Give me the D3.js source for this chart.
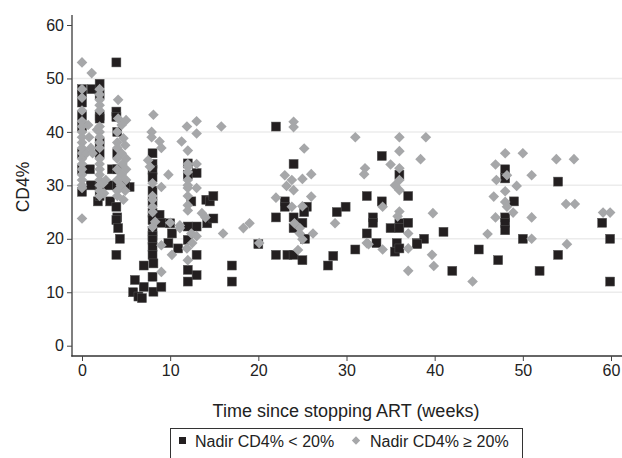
<!DOCTYPE html>
<html>
<head>
<meta charset="utf-8">
<script src="https://cdn.jsdelivr.net/npm/d3@7"></script>
<style>
  body { margin: 0; background: #fff; }
  text { font-family: "Liberation Sans", Arial, sans-serif; fill: #222; }
</style>
</head>
<body>
<svg id="chart" width="622" height="458"></svg>
<script>
// [week, CD4%] for patients with nadir CD4% < 20%
var nadirLow = [
  [0,48],[0,47],[0,45.5],[0,43],[0,41],[0,36],[0,33],[0,28.8],
  [1.1,48],[0.9,33],[1,30],
  [2,49],[2,47],[2,43],[2,42.5],[2,38],[2,36],[2,30],[1.8,27],[2,28],
  [3.2,27],[3.4,33],[3,30],
  [3.9,53],[3.9,43.8],[3.9,42.8],[4,40],[4,36],[4,33],[4,30],[3.9,26],[4,24],[3.9,23.5],[4.1,22],[4.3,20],[3.9,17],
  [5.4,29.7],[4.9,30],
  [6,12.3],[5.8,10],[6.4,9.2],[6.8,8.9],[7,11],[7,15],
  [8,36],[8,34],[8,32.9],[8,31.5],[8,29],[8,27],[8,24.8],[8,23.5],[8,21.5],[8,20.5],[8,19.8],[8,18.5],[8,17],[8.1,15.4],[8,12.9],[8.1,10.1],
  [8.8,24.5],[9,11],[9.8,19.2],[9,23],
  [10,22.9],[10.2,21],[10.9,18.2],
  [12,34.1],[12,32],[12,22.3],[12,19.8],[12,14.2],[12,12],[12.4,27],
  [13,32.3],[13,22.3],[13,17],[13,13.2],
  [14.1,27.3],[14.5,27],[14.9,28],[14.2,22.9],[14.9,23.8],
  [17,15],[17,12],
  [20,19],
  [22,41],[22,24],[22,17],
  [23,27],[23,26],[23.3,17],
  [24,34],[24,24],[24,22],[24,17],
  [25.5,26],[25.2,25],[25,23],[25.3,20],[25,16],
  [28.5,16.8],[27.9,15],[28.9,25],[29.9,26],
  [31,18],
  [32.3,28],[32.3,21],
  [33,24],[33,23],[33.4,19.2],
  [34,35.5],[34,27],
  [35,22],[35.7,19.2],[35.5,17.6],
  [36,32],[36,22.9],[36,22],[36,18.2],
  [37,28],[37,23],
  [38,19.2],[38.8,20],[38,19],
  [41,21.3],[42,14],[45,18],[47.2,16],
  [48,33],[48,31.3],[48,24],[48,23],[48,21.6],
  [49,27],[50,20],[51.9,14],
  [54,30.7],[54,17],
  [59,23],[59.9,20],[59.9,12]
];

// [week, CD4%] for patients with nadir CD4% >= 20%
var nadirHigh = [
  [0,53],[0,48],[0,46.4],[0,44],[0,42],[0,41],[0,40],[0,39],[0,38],[0,37],[0,36],[0,35],[0,34],[0,33],[0,32],[0,31],[0,30],[0,29.5],[0,23.8],
  [0.7,41.3],[0.8,39],[0.5,36],
  [1.1,51],[1.7,40.4],[1,37],[1.2,36],
  [2,48],[2,47],[2,46],[2,45],[2,44],[2,41],[2,40],[2,39],[2,38],[2,37],[2,35],[2,34],[2,33],[2,32],[2,31],[2,30],[2,29],[2,28],[2.4,30.4],[2.7,31],[2.5,28.5],
  [4.1,46],[4.1,42.5],[5,42.2],[4.5,41.3],[4,40],[4.7,38.8],[4,38],[4.9,37.5],[4,37],[4.5,36],[4,35],[4.6,34],[4,33],[4.5,32],[4,31],[4.4,30],[4,29],[4.7,27.3],[4,28],
  [5,35],[5,33],[5,31],[4.9,29],
  [8.1,43.2],[7.9,40],[7.9,39],[8.8,38.2],[9,37],[7.5,34.7],[7.7,33.5],[9.8,32],[8,30.4],[9,29.7],[8,28],[8,27.3],[8,26],[8.3,23.2],[8,22.2],[9,18.8],[9,13.8],[8,25],
  [10.2,17],[10,23],
  [11.1,22.5],[11.1,22],[11.3,38.2],
  [11.9,41],[12,36.5],[12,34],[12,32.5],[12,31],[12,29.5],[12,28],[12,26.3],[12,25.3],[12.4,21],[12.5,19.2],[11.9,18.2],[12,16],[12,30],[12,33.5],
  [13,42],[13,39.7],[13,34],[13,29.5],[13.6,24.8],[14,24],[13,20.5],
  [15.8,41],[16,21],
  [18.3,22],[19,22.9],
  [20.1,19.2],
  [22,27.7],
  [23,31.9],[23.8,31],[23.2,29.9],[24,29.1],[23.8,26],
  [24,41.9],[24,40.9],[24.1,22.9],[24.7,22],[24.7,21],[24.5,17.9],
  [25.2,36.9],[26,32.1],[25,31.2],[26,27.9],[25,26.1],[25,19.9],[26.2,21],
  [28.7,22.9],
  [31,39],
  [32.1,33.2],[32,32.1],[32.3,19.2],[32.5,19],
  [34.1,26],[34.1,18],
  [35,33.9],[35.5,30],
  [36,39],[36,36.4],[36,33.2],[36,31],[36,29.1],[36,25.1],[35.8,24.2],
  [37,21],[37,18.2],[37,14],
  [38.4,34.9],[39,39],
  [39.8,24.8],[39.7,17],[39.9,14.9],
  [44.3,12],
  [46,20.9],[46.9,33.9],[47,31],[46.7,27.9],[46.9,24],
  [48,36],[48.2,31.9],[48,28.9],[48,26.9],[48.2,26],[48.9,24.9],[49.3,29.9],
  [50,36],[51,31.9],[51,24],[51,20],
  [53.8,34.9],[55.8,34.9],[54.9,26.5],[55.9,26.5],[55,19],
  [59.1,24.9],[59.9,24.9]
];

var xTicks = [0, 10, 20, 30, 40, 50, 60];
var yTicks = [0, 10, 20, 30, 40, 50, 60];
var gridVals = [10, 20, 30, 40, 50];
var legendLabels = ["Nadir CD4% < 20%", "Nadir CD4% \u2265 20%"];

var blackCol = "#231f20", greyCol = "#a6a7a9";

var svg = d3.select("#chart");

var x = d3.scaleLinear().domain([0, 60]).range([82, 611]);
var y = d3.scaleLinear().domain([0, 60]).range([345.7, 25]);

// gridlines
svg.append("g").selectAll("line")
    .data(gridVals)
    .enter().append("line")
    .attr("x1", 73).attr("x2", 622)
    .attr("y1", d => y(d)).attr("y2", d => y(d))
    .attr("stroke", "#ececec").attr("stroke-width", 1.5);

// y axis
var yAxis = d3.axisLeft(y).tickValues(yTicks).tickSize(5).tickPadding(3);
var gY = svg.append("g")
    .attr("transform", "translate(72,0)")
    .call(yAxis);
gY.select(".domain").attr("d", "M0,15V356.5").attr("stroke", "#555").attr("stroke-width", 1.5);

// x axis
var xAxis = d3.axisBottom(x).tickValues(xTicks).tickSize(5).tickPadding(4);
var gX = svg.append("g")
    .attr("transform", "translate(0,356)")
    .call(xAxis);
gX.select(".domain").attr("d", "M71.3,0H622").attr("stroke", "#333").attr("stroke-width", 1.5);

svg.selectAll(".tick line").attr("stroke", "#444");
svg.selectAll(".tick text")
    .style("font-family", "'Liberation Sans', Arial, sans-serif")
    .style("font-size", "16px").attr("fill", "#222");

// axis titles
svg.append("text")
    .attr("x", 346).attr("y", 417)
    .attr("text-anchor", "middle")
    .style("font-size", "18px")
    .text("Time since stopping ART (weeks)");
svg.append("text")
    .attr("transform", "translate(29,187) rotate(-90)")
    .attr("text-anchor", "middle")
    .style("font-size", "17.5px")
    .text("CD4%");

// black squares first, grey diamonds on top
var sq = 9;
svg.append("g").selectAll("rect")
    .data(nadirLow)
    .enter().append("rect")
    .attr("x", d => x(d[0]) - sq / 2)
    .attr("y", d => y(d[1]) - sq / 2)
    .attr("width", sq).attr("height", sq)
    .attr("fill", blackCol)
    .attr("stroke", "#555").attr("stroke-width", 0.5);

var diamond = d3.symbol().type(d3.symbolDiamond2).size(72);
svg.append("g").selectAll("path")
    .data(nadirHigh)
    .enter().append("path")
    .attr("d", diamond)
    .attr("transform", d => "translate(" + x(d[0]) + "," + y(d[1]) + ")")
    .attr("fill", greyCol);

// legend
var leg = svg.append("g");
leg.append("rect")
    .attr("x", 170.5).attr("y", 428.5)
    .attr("width", 352).attr("height", 40)
    .attr("fill", "#fff").attr("stroke", "#333").attr("stroke-width", 1);
leg.append("rect")
    .attr("x", 179).attr("y", 437)
    .attr("width", 7).attr("height", 7)
    .attr("fill", blackCol);
leg.append("text")
    .attr("x", 195).attr("y", 447)
    .style("font-size", "16px")
    .text(legendLabels[0]);
leg.append("path")
    .attr("d", d3.symbol().type(d3.symbolDiamond2).size(45))
    .attr("transform", "translate(356,440.5)")
    .attr("fill", greyCol);
leg.append("text")
    .attr("x", 370).attr("y", 447)
    .style("font-size", "16px")
    .text(legendLabels[1]);
</script>
</body>
</html>
